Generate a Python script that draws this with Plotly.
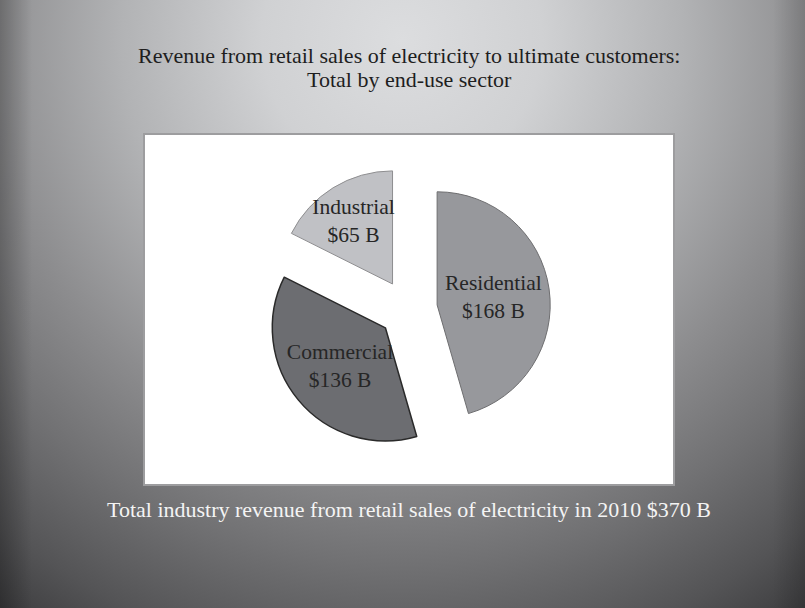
import base64
import plotly.graph_objects as go

# ---------------- data ----------------
sectors = ["Residential", "Commercial", "Industrial"]
revenue_billion = [168, 136, 65]
total_revenue_billion = 370
year = 2010

title_line1 = "Revenue from retail sales of electricity to ultimate customers:"
title_line2 = "Total by end-use sector"
footer_text = f"Total industry revenue from retail sales of electricity in {year} ${total_revenue_billion} B"

# ---------------- style ----------------
W, H = 805, 608
FONT = "Liberation Serif, Times New Roman, serif"
slice_fill = ["#97989c", "#6c6d71", "#c0c1c5"]
slice_line = ["#6e6e70", "#2a2a2a", "#8e8e90"]
slice_line_w = [1, 1.5, 1]
pull = 0.26
label_size = 21.5

def px_x(x):
    return x / W

def px_y(y):
    return 1 - y / H

# pie box (pixels): centre and side
cx, cy, box = 408, 309, 285
dom_x = [px_x(cx - box / 2), px_x(cx + box / 2)]
dom_y = [px_y(cy + box / 2), px_y(cy - box / 2)]

# background radial gradient as an SVG image
svg = f"""<svg xmlns='http://www.w3.org/2000/svg' width='{W}' height='{H}' viewBox='0 0 {W} {H}'>
<defs>
<radialGradient id='g' gradientUnits='userSpaceOnUse' cx='402' cy='40' r='700'>
<stop offset='0' stop-color='#dcdddf'/>
<stop offset='0.2' stop-color='#d0d1d3'/>
<stop offset='0.4' stop-color='#b2b3b5'/>
<stop offset='0.6' stop-color='#8c8c8e'/>
<stop offset='0.75' stop-color='#717173'/>
<stop offset='0.9' stop-color='#545456'/>
<stop offset='1' stop-color='#3c3c3e'/>
</radialGradient>
<linearGradient id='l' x1='0' y1='0' x2='1' y2='0'>
<stop offset='0' stop-color='#000' stop-opacity='0.25'/>
<stop offset='0.04' stop-color='#000' stop-opacity='0'/>
<stop offset='0.96' stop-color='#000' stop-opacity='0'/>
<stop offset='1' stop-color='#000' stop-opacity='0.15'/>
</linearGradient>
</defs>
<rect x='0' y='0' width='{W}' height='{H}' fill='url(#g)'/>
<rect x='0' y='0' width='{W}' height='{H}' fill='url(#l)'/>
</svg>"""
bg_src = "data:image/svg+xml;base64," + base64.b64encode(svg.encode()).decode()

fig = go.Figure()
fig.add_trace(go.Pie(
    labels=sectors,
    values=revenue_billion,
    sort=False,
    direction="clockwise",
    rotation=0,
    pull=pull,
    domain=dict(x=dom_x, y=dom_y),
    marker=dict(colors=slice_fill, line=dict(color=slice_line, width=slice_line_w)),
    texttemplate="%{label}<br>$%{value} B",
    textposition="inside",
    insidetextorientation="horizontal",
    textfont=dict(family=FONT, size=label_size, color="#262626"),
    hoverinfo="skip",
    showlegend=False,
))

fig.update_layout(
    width=W, height=H,
    margin=dict(l=0, r=0, t=0, b=0),
    paper_bgcolor="#8c8c8e",
    plot_bgcolor="rgba(0,0,0,0)",
    uniformtext=dict(minsize=label_size, mode="show"),
    images=[dict(source=bg_src, xref="paper", yref="paper", x=0, y=1,
                 sizex=1, sizey=1, sizing="stretch", xanchor="left", yanchor="top",
                 layer="below")],
    shapes=[dict(type="rect", xref="paper", yref="paper",
                 x0=px_x(144), x1=px_x(674), y0=px_y(485), y1=px_y(134),
                 fillcolor="white", line=dict(color="#9d9d9f", width=2), layer="below")],
    annotations=[
        dict(text=title_line1, xref="paper", yref="paper", x=px_x(409), y=px_y(56),
             showarrow=False, xanchor="center", yanchor="middle",
             font=dict(family=FONT, size=22, color="#1e1e1e")),
        dict(text=title_line2, xref="paper", yref="paper", x=px_x(409), y=px_y(79),
             showarrow=False, xanchor="center", yanchor="middle",
             font=dict(family=FONT, size=22, color="#1e1e1e")),
        dict(text=footer_text, xref="paper", yref="paper", x=px_x(408.5), y=px_y(509),
             showarrow=False, xanchor="center", yanchor="middle",
             font=dict(family=FONT, size=22, color="#f4f4f4")),
    ],
)

fig.write_html("out.html")
